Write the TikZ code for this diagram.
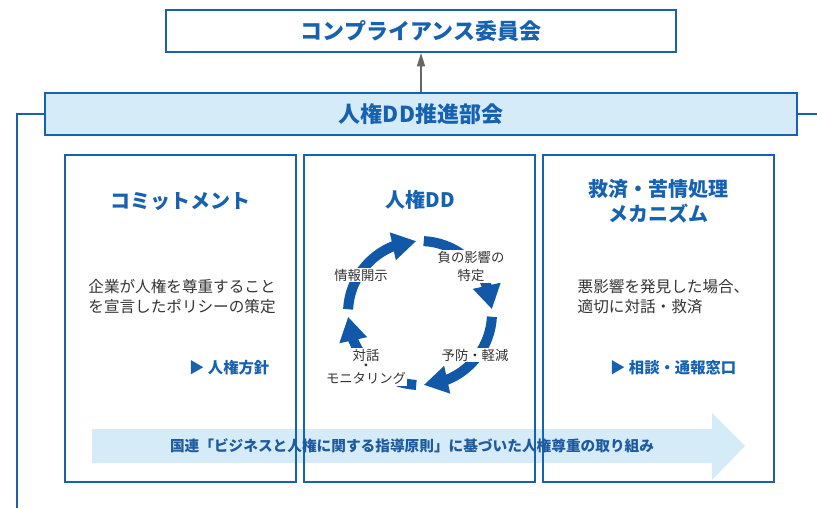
\documentclass[tikz,border=0pt]{standalone}
\usepackage{fontspec}
\setmainfont{Noto Sans CJK JP}
\usetikzlibrary{arrows.meta,bending}
\definecolor{rblue}{HTML}{1762B0}
\definecolor{lblue}{HTML}{D6EBF8}
\definecolor{cblue}{HTML}{1158A8}
\definecolor{ablue}{HTML}{1F5A9E}
\definecolor{tgray}{HTML}{333333}
\definecolor{egray}{HTML}{666666}

\begin{document}
\begin{tikzpicture}[
    x=0.75pt, y=0.75pt,
    board/.style={draw=rblue, line width=1.5pt, minimum width=382.5pt, minimum height=31.5pt, inner sep=0pt, text=rblue, font=\fontsize{16.5}{18}\selectfont\bfseries},
    pillar/.style={draw=rblue, line width=1.5pt, minimum width=173.25pt, minimum height=245.25pt, inner sep=0pt},
    heading/.style={text=rblue, align=center, font=\fontsize{15}{19}\selectfont\bfseries},
    body/.style={text=tgray, font=\fontsize{11.7}{15}\selectfont},
    link/.style={text=rblue, font=\fontsize{11.5}{14}\selectfont\bfseries},
    cycarrow/.style={cblue, line width=7.5pt, -{Triangle[length=18pt, width=20pt]}},
    cyclabel/.style={text=tgray, fill=white, inner sep=1pt, align=center, font=\fontsize{10}{13.5}\selectfont},
    connector/.style={draw=rblue, line width=1.5pt},
    upedge/.style={egray, line width=1.1pt, -{Triangle[length=10pt, width=6pt]}}
]
\useasboundingbox (0,0) rectangle (817,-508);

\node[board] (comp) at (421,-31) {コンプライアンス委員会};
\node[board, fill=lblue, line width=2pt, minimum width=564pt] (dd) at (421,-114) {人権DD推進部会};
\draw[upedge] (dd) -- (comp);

\coordinate (lend) at (17,-508);
\coordinate (rend) at (817,-114);
\draw[connector] (dd.west) -| (lend);
\draw[connector] (dd.east) -- (rend);

\fill[lblue] (92,-429) -- (712,-429) -- (712,-413) -- (745,-446) -- (712,-480) -- (712,-463) -- (92,-463) -- cycle;

\node[pillar] (commit) at (180.5,-318.5) {};
\node[pillar] (hrdd) at (419.5,-318.5) {};
\node[pillar] (remedy) at (658,-318.5) {};

\node[heading] (committitle) at (180,-202) {コミットメント};
\node[body, align=center] (commitbody) at (182,-297) {企業が人権を尊重すること\\を宣言したポリシーの策定};
\node[link, anchor=east] (commitlink) at (274,-368) {▶ 人権方針};

\node[heading] (ddtitle) at (420,-200) {人権DD};
\coordinate (cyc) at (420,-313);
\draw[cycarrow] ([shift={(177:54pt)}]cyc) arc[start angle=177, end angle=93, radius=54pt];
\draw[cycarrow] ([shift={(87:54pt)}]cyc) arc[start angle=87, end angle=3, radius=54pt];
\draw[cycarrow] ([shift={(-3:54pt)}]cyc) arc[start angle=-3, end angle=-87, radius=54pt];
\draw[cycarrow] ([shift={(-93:54pt)}]cyc) arc[start angle=-93, end angle=-177, radius=54pt];
\node[cyclabel] (disclose) at (361,-275) {情報開示};
\node[cyclabel] (identify) at (471,-266) {負の影響の\\特定};
\node[cyclabel] (prevent) at (475,-355) {予防・軽減};
\node[cyclabel, font=\fontsize{10}{7.5}\selectfont] (monitor) at (366,-367) {対話\\・\\モニタリング};

\node[heading] (remedytitle) at (658,-201) {救済・苦情処理\\メカニズム};
\node[body, align=left, anchor=west] (remedybody) at (573,-297) {悪影響を発見した場合、\\適切に対話・救済};
\node[link, anchor=east] (remedylink) at (741,-368) {▶ 相談・通報窓口};

\node[text=ablue, font=\fontsize{11}{13}\selectfont\bfseries] (un) at (412,-446) {国連「ビジネスと人権に関する指導原則」に基づいた人権尊重の取り組み};

\end{tikzpicture}
\end{document}
